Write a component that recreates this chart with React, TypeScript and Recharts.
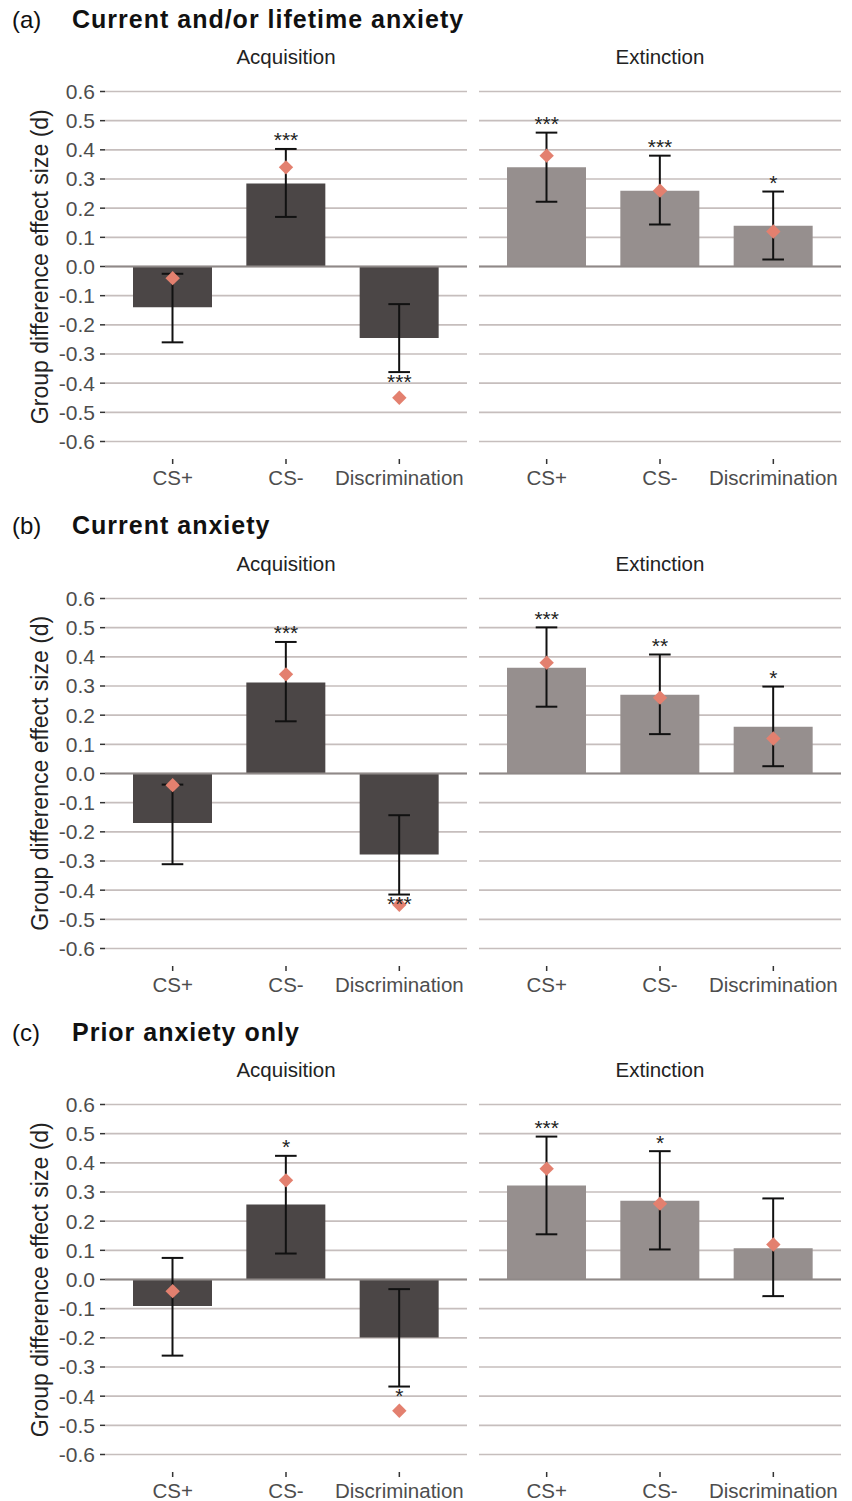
import React from 'react';
import {
  ComposedChart,
  Bar,
  XAxis,
  YAxis,
  CartesianGrid,
  ErrorBar,
  Scatter,
  ReferenceLine,
} from 'recharts';

// ---------- data ----------
const categories = ['CS+', 'CS-', 'Discrimination'];
const yTicks = [-0.6, -0.5, -0.4, -0.3, -0.2, -0.1, 0, 0.1, 0.2, 0.3, 0.4, 0.5, 0.6];

const panelLabels = ['(a)', '(b)', '(c)'];
const panelTitles = ['Current and/or lifetime anxiety', 'Current anxiety', 'Prior anxiety only'];
const facetNames = ['Acquisition', 'Extinction'];
const yAxisTitle = 'Group difference effect size (d)';

// red diamonds (reference effect sizes)
const refAcquisition = [-0.04, 0.34, -0.45];
const refExtinction = [0.38, 0.26, 0.12];

// (a) Current and/or lifetime anxiety
const aAcqD = [-0.14, 0.285, -0.245];
const aAcqLo = [-0.26, 0.17, -0.362];
const aAcqHi = [-0.025, 0.403, -0.129];
const aAcqStars = ['', '***', '***'];
const aExtD = [0.34, 0.26, 0.14];
const aExtLo = [0.222, 0.144, 0.024];
const aExtHi = [0.459, 0.38, 0.257];
const aExtStars = ['***', '***', '*'];

// (b) Current anxiety
const bAcqD = [-0.17, 0.312, -0.278];
const bAcqLo = [-0.311, 0.179, -0.415];
const bAcqHi = [-0.038, 0.451, -0.143];
const bAcqStars = ['', '***', '***'];
const bExtD = [0.363, 0.27, 0.16];
const bExtLo = [0.229, 0.135, 0.025];
const bExtHi = [0.501, 0.408, 0.298];
const bExtStars = ['***', '**', '*'];

// (c) Prior anxiety only
const cAcqD = [-0.091, 0.257, -0.199];
const cAcqLo = [-0.261, 0.089, -0.367];
const cAcqHi = [0.074, 0.424, -0.033];
const cAcqStars = ['', '*', '*'];
const cExtD = [0.322, 0.27, 0.107];
const cExtLo = [0.155, 0.103, -0.057];
const cExtHi = [0.49, 0.44, 0.278];
const cExtStars = ['***', '*', ''];

// ---------- helpers ----------
type Row = {
  cat: string;
  effect: number;
  ci: [number, number];
  refEffect: number;
  starY: number;
  stars: string;
  pos: boolean;
};

function buildRows(d: number[], lo: number[], hi: number[], refv: number[], stars: string[]): Row[] {
  return categories.map((c, i) => ({
    cat: c,
    effect: d[i],
    ci: [d[i] - lo[i], hi[i] - d[i]],
    refEffect: refv[i],
    starY: d[i] >= 0 ? hi[i] : lo[i],
    stars: stars[i],
    pos: d[i] >= 0,
  }));
}

const panels = [
  {
    acq: buildRows(aAcqD, aAcqLo, aAcqHi, refAcquisition, aAcqStars),
    ext: buildRows(aExtD, aExtLo, aExtHi, refExtinction, aExtStars),
  },
  {
    acq: buildRows(bAcqD, bAcqLo, bAcqHi, refAcquisition, bAcqStars),
    ext: buildRows(bExtD, bExtLo, bExtHi, refExtinction, bExtStars),
  },
  {
    acq: buildRows(cAcqD, cAcqLo, cAcqHi, refAcquisition, cAcqStars),
    ext: buildRows(cExtD, cExtLo, cExtHi, refExtinction, cExtStars),
  },
];

const ROW_OFFSETS = [0, 506.5, 1013];
const PLOT_TOP = 74.2;
const PLOT_H = 385;
const X_AXIS_H = 40;
const FONT = '"Liberation Sans", Arial, Helvetica, sans-serif';

const Diamond = (props: any) => {
  const { cx, cy } = props;
  if (cx == null || cy == null) return <g />;
  const r = 7.2;
  return (
    <polygon
      points={`${cx},${cy - r} ${cx + r},${cy} ${cx},${cy + r} ${cx - r},${cy}`}
      fill="#e3806f"
    />
  );
};

const Stars = (props: any) => {
  const { cx, cy, payload } = props;
  if (!payload || !payload.stars || cx == null || cy == null) return <g />;
  const y = payload.pos ? cy - 9 : cy + 9;
  return (
    <text
      x={cx}
      y={y}
      textAnchor="middle"
      dominantBaseline="central"
      fontSize={21}
      fill="#222"
      fontFamily={FONT}
    >
      {payload.stars}
    </text>
  );
};

function Facet({ rows, fill, showY, left, top }: { rows: Row[]; fill: string; showY: boolean; left: number; top: number }) {
  const yW = showY ? 105 : 0;
  const width = yW + 362;
  return (
    <div style={{ position: 'absolute', left, top }}>
      <ComposedChart
        width={width}
        height={PLOT_H + X_AXIS_H}
        data={rows}
        margin={{ top: 0, right: 0, bottom: 0, left: 0 }}
      >
        <CartesianGrid vertical={false} syncWithTicks stroke="#c6bebd" strokeWidth={1.6} />
        <XAxis
          dataKey="cat"
          padding={{ left: 11, right: 11 }}
          axisLine={false}
          tickLine={{ stroke: '#333', strokeWidth: 1.5 }}
          tickSize={5}
          tickMargin={6}
          height={X_AXIS_H}
          interval={0}
          tick={{ fontSize: 20.5, fill: '#4d4d4d', fontFamily: FONT }}
        />
        <YAxis
          type="number"
          domain={[-0.66, 0.66]}
          ticks={yTicks}
          allowDataOverflow
          interval={0}
          width={yW}
          hide={!showY}
          axisLine={false}
          tickLine={{ stroke: '#333', strokeWidth: 1.5 }}
          tickSize={5}
          tickMargin={5}
          tickFormatter={(v: number) => v.toFixed(1)}
          tick={{ fontSize: 21, fill: '#4d4d4d', fontFamily: FONT }}
        />
        <ReferenceLine y={0} stroke="#8f8988" strokeWidth={1.8} />
        <Bar dataKey="effect" fill={fill} barSize={79} isAnimationActive={false}>
          <ErrorBar dataKey="ci" width={10.8} stroke="#111" strokeWidth={2} direction="y" />
        </Bar>
        <Scatter dataKey="refEffect" shape={Diamond} isAnimationActive={false} />
        <Scatter dataKey="starY" shape={Stars} isAnimationActive={false} />
      </ComposedChart>
    </div>
  );
}

export default function App() {
  return (
    <div
      style={{
        position: 'absolute',
        left: 0,
        top: 0,
        width: 852,
        height: 1501,
        background: '#fff',
        fontFamily: FONT,
        overflow: 'hidden',
      }}
    >
      {panels.map((p, i) => {
        const off = ROW_OFFSETS[i];
        return (
          <React.Fragment key={i}>
            <Facet rows={p.acq} fill="#4b4646" showY left={0} top={off + PLOT_TOP} />
            <Facet rows={p.ext} fill="#968f8e" showY={false} left={479} top={off + PLOT_TOP} />
          </React.Fragment>
        );
      })}
      <svg
        width={852}
        height={1501}
        style={{ position: 'absolute', left: 0, top: 0, pointerEvents: 'none' }}
      >
        {panels.map((_, i) => {
          const off = ROW_OFFSETS[i];
          return (
            <g key={i} fontFamily={FONT}>
              <text x={12} y={off + 27.5} fontSize={24} fill="#111">
                {panelLabels[i]}
              </text>
              <text x={72} y={off + 27.5} fontSize={25} fontWeight="bold" letterSpacing={1} fill="#111">
                {panelTitles[i]}
              </text>
              <text x={286} y={off + 64} fontSize={20.5} textAnchor="middle" fill="#222">
                {facetNames[0]}
              </text>
              <text x={660} y={off + 64} fontSize={20.5} textAnchor="middle" fill="#222">
                {facetNames[1]}
              </text>
              <text
                x={48}
                y={off + 266.7}
                fontSize={23}
                textAnchor="middle"
                fill="#222"
                transform={`rotate(-90, 48, ${off + 266.7})`}
              >
                {yAxisTitle}
              </text>
            </g>
          );
        })}
      </svg>
    </div>
  );
}
